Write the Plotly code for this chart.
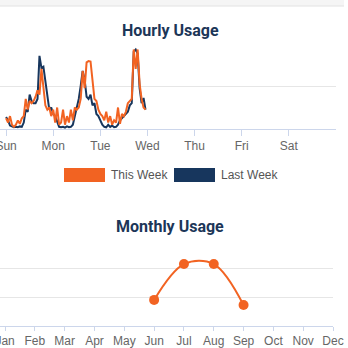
import plotly.graph_objects as go

# ---------------- data ----------------
day_labels = ["Sun", "Mon", "Tue", "Wed", "Thu", "Fri", "Sat"]
hours = list(range(72))
this_week = [0.25, 0.15, 0.30, 0.10, 0.05, 0.10, 0.20, 0.12, 0.25, 0.30,
             0.70, 0.45, 0.65, 0.60, 0.65, 0.75, 0.90, 0.80, 1.40, 1.00,
             0.55, 0.45, 0.50, 0.30, 0.45, 0.15, 0.50, 0.10, 0.15, 0.45,
             0.10, 0.30, 0.15, 0.45, 0.20, 0.50, 0.45, 0.50, 0.70, 1.35,
             0.95, 1.55, 1.58, 1.57, 1.05, 0.70, 0.65, 0.45, 0.35, 0.30,
             0.20, 0.40, 0.15, 0.30, 0.10, 0.20, 0.15, 0.50, 0.12, 0.35,
             0.30, 0.40, 0.60, 0.65, 0.70, 1.85, 1.40, 1.85, 1.05, 0.70,
             0.50, 0.45]
last_week = [0.28, 0.20, 0.08, 0.05, 0.04, 0.05, 0.04, 0.06, 0.05, 0.15,
             0.45, 0.40, 0.80, 0.65, 0.60, 0.60, 0.70, 1.70, 1.42, 1.45,
             1.10, 0.70, 0.45, 0.50, 0.35, 0.30, 0.15, 0.05, 0.04, 0.05,
             0.03, 0.06, 0.04, 0.05, 0.10, 0.30, 0.45, 0.70, 1.00, 1.35,
             1.15, 0.75, 0.70, 0.80, 0.55, 0.60, 0.35, 0.30, 0.20, 0.10,
             0.05, 0.04, 0.10, 0.05, 0.08, 0.04, 0.05, 0.10, 0.20, 0.25,
             0.30, 0.35, 0.40, 0.55, 0.60, 1.80, 1.85, 1.75, 0.95, 0.60,
             0.72, 0.45]

months = ["Jan", "Feb", "Mar", "Apr", "May", "Jun", "Jul", "Aug", "Sep", "Oct", "Nov", "Dec"]
month_idx = [5, 6, 7, 8]
monthly_values = [0.91, 2.16, 2.16, 0.73]

# ---------------- styles ----------------
ORANGE = "#f26322"
NAVY = "#17365d"
TITLE = "#1c3658"
GRID = "#e6e6e6"
AXIS = "#ccd6eb"
LABEL = "#666666"
W = H = 348

def px_x(p):
    return p / W

def px_y(p):
    return 1 - p / H

fig = go.Figure()

fig.add_trace(go.Scatter(x=hours, y=last_week, mode="lines", name="Last Week",
                         line=dict(color=NAVY, width=2), xaxis="x", yaxis="y",
                         showlegend=False, hoverinfo="skip"))
fig.add_trace(go.Scatter(x=hours, y=this_week, mode="lines", name="This Week",
                         line=dict(color=ORANGE, width=2), xaxis="x", yaxis="y",
                         showlegend=False, hoverinfo="skip"))
fig.add_trace(go.Scatter(x=month_idx, y=monthly_values, mode="lines+markers",
                         line=dict(color=ORANGE, width=2, shape="spline", smoothing=1.0),
                         marker=dict(color=ORANGE, size=10),
                         xaxis="x2", yaxis="y2", showlegend=False, hoverinfo="skip"))

tick_font = dict(family="Liberation Sans, Arial, sans-serif", size=12, color=LABEL)

common_x = dict(showgrid=False, zeroline=False, showline=True, linecolor=AXIS, linewidth=1,
                ticks="outside", tickcolor=AXIS, tickfont=tick_font,
                automargin=False, ticklabeloverflow="allow", fixedrange=True)
common_y = dict(showgrid=True, gridcolor=GRID, zeroline=False, showticklabels=False,
                automargin=False, fixedrange=True)

fig.update_layout(
    width=W, height=H,
    margin=dict(l=0, r=0, t=0, b=0, autoexpand=False),
    paper_bgcolor="white", plot_bgcolor="white",
    xaxis=dict(domain=[0, px_x(336)], range=[-3.1, 168], ticklen=6,
               tickvals=[i * 24 for i in range(7)], ticktext=day_labels,
               anchor="y", **common_x),
    yaxis=dict(domain=[px_y(129), px_y(43)], range=[0, 2], dtick=1,
               anchor="x", **common_y),
    xaxis2=dict(domain=[0, px_x(333)], range=[-0.17, 11], ticklen=4,
                tickvals=list(range(12)), ticktext=months,
                anchor="y2", **common_x),
    yaxis2=dict(domain=[px_y(326), px_y(240)], range=[0, 3], dtick=1,
                anchor="x2", **common_y),
)

title_font = dict(family="Roboto, sans-serif", size=16, color=TITLE)
fig.add_annotation(text="<b>Hourly Usage</b>", xref="paper", yref="paper",
                   x=px_x(170), y=px_y(31), xanchor="center", yanchor="middle",
                   showarrow=False, font=title_font)
fig.add_annotation(text="<b>Monthly Usage</b>", xref="paper", yref="paper",
                   x=px_x(170), y=px_y(226), xanchor="center", yanchor="middle",
                   showarrow=False, font=title_font)

# top shadow band
fig.add_shape(type="rect", xref="paper", yref="paper", x0=0, x1=px_x(344),
              y0=px_y(6), y1=1, fillcolor="#f5f5f5", line=dict(width=0), layer="below")
fig.add_shape(type="line", xref="paper", yref="paper", x0=0, x1=px_x(344),
              y0=px_y(6), y1=px_y(6), line=dict(color="#e2e2e2", width=1))

# legend (manual)
legend_items = [("This Week", ORANGE, 64), ("Last Week", NAVY, 174)]
for name, color, x0 in legend_items:
    fig.add_shape(type="rect", xref="paper", yref="paper",
                  x0=px_x(x0), x1=px_x(x0 + 41), y0=px_y(182), y1=px_y(168),
                  fillcolor=color, line=dict(width=0))
    fig.add_annotation(text=name, xref="paper", yref="paper",
                       x=px_x(x0 + 45), y=px_y(175), xanchor="left", yanchor="middle",
                       showarrow=False,
                       font=dict(family="Liberation Sans, Arial, sans-serif", size=12, color="#555555"))

fig.write_html("out.html")
